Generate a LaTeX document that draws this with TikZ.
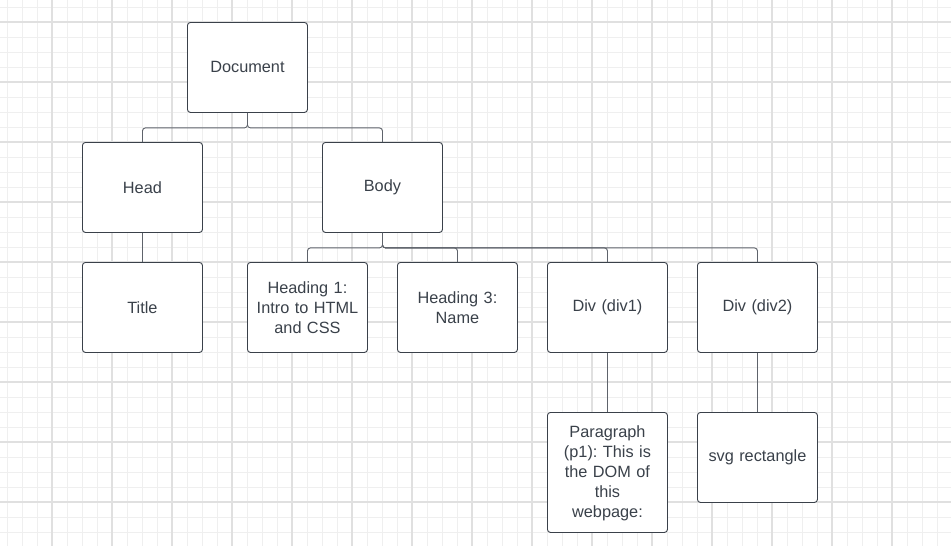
\documentclass[tikz,border=0pt]{standalone}
\usepackage{fontspec}
\setmainfont{Liberation Sans}
\frenchspacing
\definecolor{minorgrid}{HTML}{EFEFEF}
\definecolor{majorgrid}{HTML}{E0E0E0}
\definecolor{boxline}{HTML}{3A414A}
\definecolor{conline}{HTML}{5E636B}
\begin{document}
\begin{tikzpicture}[x=1pt,y=-1pt,
  box/.style={draw=boxline,line width=0.9pt,fill=white,rounded corners=3pt,
    minimum width=120pt,minimum height=90pt,inner sep=0pt,anchor=north west,
    text=boxline,font=\fontsize{16.3}{20}\selectfont,align=center,text width=114pt},
  conn/.style={draw=conline,line width=0.9pt,rounded corners=3pt}]
\useasboundingbox (0,0) rectangle (951,546);
\fill[white] (0,0) rectangle (951,546);
\foreach \x in {7,22,...,951} \draw[minorgrid,line width=0.9pt] (\x,0) -- (\x,546);
\foreach \y in {7,22,...,546} \draw[minorgrid,line width=0.9pt] (0,\y) -- (951,\y);
\foreach \x in {52,112,...,951} \draw[majorgrid,line width=1.3pt] (\x,0) -- (\x,546);
\foreach \y in {22,82,...,546} \draw[majorgrid,line width=1.3pt] (0,\y) -- (951,\y);

\node[box] (doc) at (187,22) {Document};
\node[box] (head) at (82,142) {Head};
\node[box] (body) at (322,142) {Body};
\node[box] (title) at (82,262) {Title};
\node[box] (h1) at (247,262) {Heading 1:\\Intro to HTML\\and CSS};
\node[box] (h3) at (397,262) {Heading 3:\\Name};
\node[box] (div1) at (547,262) {Div (div1)};
\node[box] (div2) at (697,262) {Div (div2)};
\node[box,minimum height=120pt] (para) at (547,412) {\vphantom{Ag}\\[-17pt]Paragraph\\(p1): This is\\the DOM of\\this\\webpage:};
\node[box] (svg) at (697,412) {svg rectangle};

\path (doc.south) ++(0,15) coordinate (dj);
\path (body.south) ++(0,15) coordinate (bj);
\draw[conn] (doc.south) -- (dj) -| (head.north);
\draw[conn] (doc.south) -- (dj) -| (body.north);
\draw[conn] (head.south) -- (title.north);
\draw[conn] (body.south) -- (bj) -| (h1.north);
\draw[conn] (body.south) -- (bj) -| (h3.north);
\draw[conn] (body.south) -- (bj) -| (div1.north);
\draw[conn] (body.south) -- (bj) -| (div2.north);
\draw[conn] (div1.south) -- (para.north);
\draw[conn] (div2.south) -- (svg.north);
\end{tikzpicture}
\end{document}
